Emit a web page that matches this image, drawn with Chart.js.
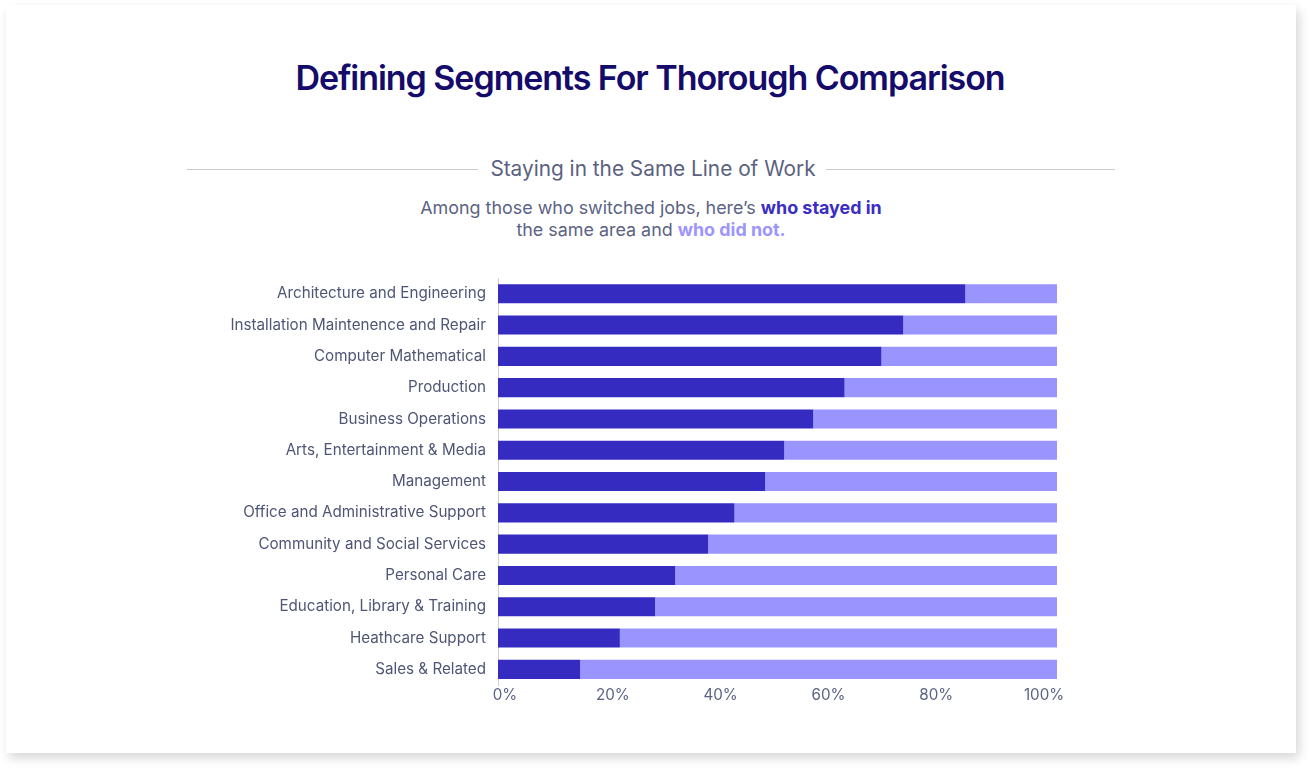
<!DOCTYPE html>
<html>
<head>
<meta charset="utf-8">
<script src="https://cdn.jsdelivr.net/npm/chart.js@4.4.1/dist/chart.umd.min.js"></script>
<style>
  html, body { margin: 0; padding: 0; background: #fff; }
  body { width: 1310px; height: 768px; position: relative; overflow: hidden; font-family: Inter, "Noto Sans", sans-serif; }
  .card {
    position: absolute; left: 6px; top: 5px; width: 1290px; height: 748px;
    background: #fff; box-shadow: 3px 5px 10px rgba(0,0,0,0.16);
  }
  .title {
    position: absolute; left: 0; right: 10px; top: 57px; text-align: center;
    font-size: 34px; font-weight: 600; color: #140b6b; letter-spacing: -1.05px;
  }
  .divider { position: absolute; top: 169px; height: 1px; background: #c9c9ce; }
  .subtitle {
    position: absolute; left: 0; right: 4px; top: 156px; text-align: center;
    font-size: 20.8px; color: #5b6180;
  }
  .desc {
    position: absolute; left: 0; right: 8px; top: 197px; text-align: center;
    font-size: 17.9px; line-height: 22px; color: #5b6384;
  }
  .desc .stay { color: #3a2ec4; font-weight: 700; }
  .desc .left { color: #9d95ff; font-weight: 700; }
  #wrap { position: absolute; left: 200px; top: 257px; width: 880px; height: 454px; }
</style>
</head>
<body>
<div class="card"></div>
<div class="title">Defining Segments For Thorough Comparison</div>
<div class="divider" style="left:187px; width:291px;"></div>
<div class="divider" style="left:826px; width:289px;"></div>
<div class="subtitle">Staying in the Same Line of Work</div>
<div class="desc">Among those who switched jobs, here’s <span class="stay">who stayed in</span><br>the same area and <span class="left">who did not.</span></div>
<div id="wrap"><canvas id="myChart"></canvas></div>
<script>
// occupations, top to bottom
const categories = [
  'Architecture and Engineering',
  'Installation Maintenence and Repair',
  'Computer Mathematical',
  'Production',
  'Business Operations',
  'Arts, Entertainment & Media',
  'Management',
  'Office and Administrative Support',
  'Community and Social Services',
  'Personal Care',
  'Education, Library & Training',
  'Heathcare Support',
  'Sales & Related'
];
// % who stayed in the same area
const stayedIn = [83.6, 72.5, 68.6, 62.0, 56.4, 51.2, 47.8, 42.3, 37.6, 31.7, 28.1, 21.8, 14.7];
// % who did not
const didNot = [16.4, 27.5, 31.4, 38.0, 43.6, 48.8, 52.2, 57.7, 62.4, 68.3, 71.9, 78.2, 85.3];
const xTicks = [0, 20, 40, 60, 80, 100];

const labelFont = { family: 'Inter', size: 15.2 };

var ctx = document.getElementById('myChart').getContext('2d');
var myChart = new Chart(ctx, {
  type: 'bar',
  data: {
    labels: categories,
    datasets: [{
      label: 'who stayed in',
      data: stayedIn,
      backgroundColor: '#352bc1',
      barPercentage: 0.61,
      categoryPercentage: 1
    }, {
      label: 'who did not',
      data: didNot,
      backgroundColor: '#9a94ff',
      barPercentage: 0.61,
      categoryPercentage: 1
    }]
  },
  options: {
    indexAxis: 'y',
    responsive: true,
    maintainAspectRatio: false,
    animation: false,
    layout: { padding: { top: 6, right: 23, bottom: 0, left: 0 } },
    plugins: {
      legend: { display: false },
      tooltip: { enabled: false }
    },
    scales: {
      x: {
        stacked: true,
        min: 0,
        max: 100,
        display: false
      },
      // tick labels sit slightly inside the bar span in the original layout
      xt: {
        type: 'linear',
        axis: 'x',
        position: 'bottom',
        min: -1.3,
        max: 102.4,
        afterFit: (axis) => { axis.height = 26; },
        afterBuildTicks: (axis) => { axis.ticks = xTicks.map(v => ({ value: v })); },
        grid: { display: false, drawTicks: false },
        border: { display: false },
        ticks: {
          padding: 1,
          color: '#5b6384',
          font: labelFont,
          callback: (v) => v + '%'
        }
      },
      y: {
        stacked: true,
        afterFit: (axis) => { axis.width = 298; },
        grid: { display: false, drawTicks: false },
        border: { display: true, color: '#cfcfd4', width: 1 },
        ticks: {
          padding: 12,
          color: '#4f5675',
          font: labelFont
        }
      }
    }
  }
});
</script>
</body>
</html>
